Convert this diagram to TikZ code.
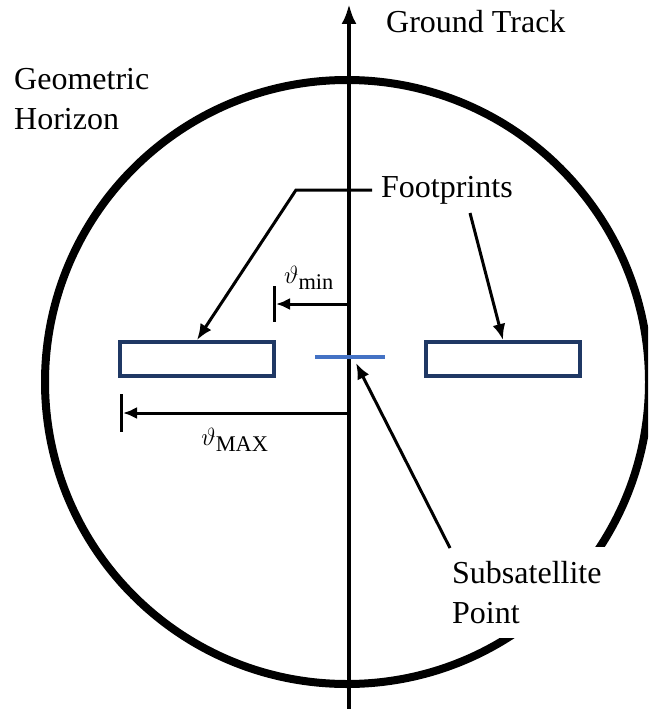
\documentclass[tikz,border=0pt]{standalone}
\usepackage{fontspec}
\setmainfont{Liberation Serif}
\usetikzlibrary{arrows.meta}
\definecolor{footblue}{RGB}{31,56,100}
\definecolor{subblue}{RGB}{68,114,196}
\tikzset{
    lbl/.style={font=\fontsize{32}{40}\selectfont, inner sep=0pt},
    pointer/.style={line width=3pt, -{Latex[length=16pt,width=13pt]}},
    footbox/.style={draw=footblue, line width=4pt, minimum width=154pt, minimum height=34pt, inner sep=0pt},
}
\begin{document}
\begin{tikzpicture}[x=1pt, y=-1pt]
                \useasboundingbox (0,0) rectangle (648,709);
                \begin{scope}
                    \clip (0,0) rectangle (648,709);
                    \draw[line width=8pt] (347,382) circle[radius=302pt];
                \end{scope}
                \coordinate (gbot) at (349,709);
                \coordinate (gtop) at (349,4);
                \draw[line width=4pt, -{Latex[length=20pt,width=15pt]}] (gbot) -- (gtop);
                \node[lbl, anchor=west] (gtrack) at (386,22) {Ground Track};
                \node[lbl, align=left, anchor=north west] (horizon) at (14,68) {Geometric\\Horizon};
                \node[footbox] (leftfp) at (197,359) {};
                \node[footbox] (rightfp) at (503,359) {};
                \node[fill=subblue, minimum width=70pt, minimum height=4pt, inner sep=0pt] (ssp) at (350,357) {};
                \node[lbl, anchor=west] (foot) at (381,190) {Footprints};
                \coordinate (fpstart) at (372,190);
                \coordinate (fpbend) at (296,190);
                \coordinate (fprstart) at (470,213);
                \draw[pointer] (fpstart) -- (fpbend) -- (leftfp.north);
                \draw[pointer] (fprstart) -- (rightfp.north);
                \coordinate (minstart) at (349,304);
                \coordinate (minend) at (276,304);
                \draw[line width=3pt] (274,286) -- (274,322);
                \draw[line width=3pt, -{Latex[length=14pt,width=12pt]}] (minstart) -- (minend);
                \node[lbl] (minlbl) at (309,278) {$\vartheta_{\mathrm{min}}$};
                \coordinate (maxstart) at (349,413);
                \coordinate (maxend) at (123,413);
                \draw[line width=3pt] (121,394) -- (121,432);
                \draw[line width=3pt, -{Latex[length=14pt,width=12pt]}] (maxstart) -- (maxend);
                \node[lbl] (maxlbl) at (235,440) {$\vartheta_{\mathrm{MAX}}$};
                \node[lbl, align=left, anchor=north west, fill=white, inner xsep=4pt, inner ysep=14pt] (sublbl) at (448,547) {Subsatellite\\Point};
                \coordinate (substart) at (450,548);
                \draw[pointer] (substart) -- (356,363);
            \end{tikzpicture}
\end{document}
